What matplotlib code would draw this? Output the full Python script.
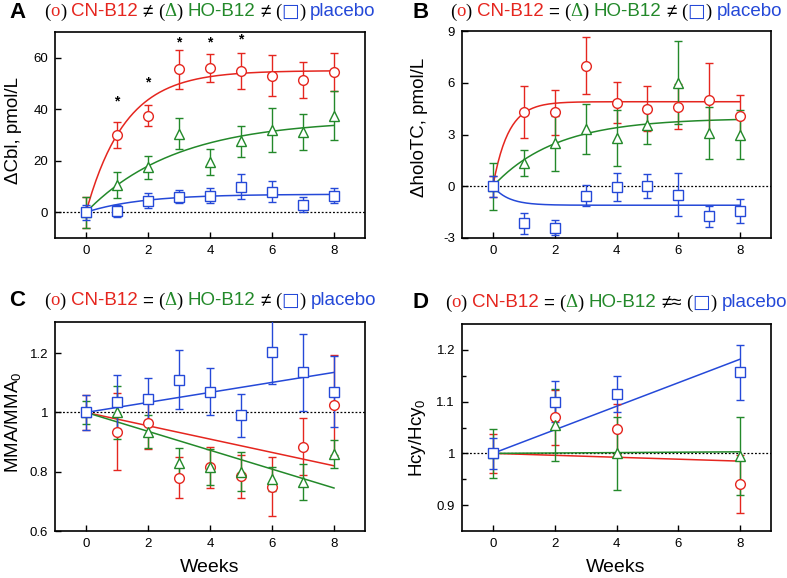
"""Four-panel B12 supplementation figure (Cbl, holoTC, MMA, Hcy over weeks)."""

import numpy as np
import matplotlib.pyplot as plt
from matplotlib.offsetbox import TextArea, HPacker, AnnotationBbox
from matplotlib.ticker import FuncFormatter

plt.rcParams["font.family"] = ["Liberation Sans", "DejaVu Sans"]
plt.rcParams["mathtext.fontset"] = "custom"
plt.rcParams["mathtext.rm"] = "Liberation Sans"
plt.rcParams["mathtext.it"] = "Liberation Sans:italic"

RED = "#e5261f"
GREEN = "#23892a"
BLUE = "#2549d8"

# ---- panel A: delta Cbl (pmol/L) ----
weeks = [0, 1, 2, 3, 4, 5, 6, 7, 8]
cbl_cn = [0, 30, 37.5, 55.5, 56, 55, 53, 51.5, 54.5]
cbl_cn_err = [6, 5, 4, 7.5, 5.5, 7, 8, 7, 7.5]
cbl_ho = [0, 10.5, 17.5, 30.5, 19.5, 27.5, 32, 31, 37.5]
cbl_ho_err = [6, 5, 4.5, 6, 5, 6, 8.5, 7, 9.5]
cbl_pl = [0, 0.5, 4.5, 6, 6.5, 10, 8, 3, 6.5]
cbl_pl_err = [3, 2.5, 3, 2.5, 3, 5, 4, 3, 3]
# fitted plateau, rate for a*(1 - exp(-k*t))
cbl_fit_cn = (55.0, 0.79)
cbl_fit_ho = (36.0, 0.345)
cbl_fit_pl = (7.0, 0.56)
star_weeks = [1, 2, 3, 4, 5]
star_heights = [43, 50.5, 66, 66, 67]

# ---- panel B: delta holoTC (pmol/L) ----
holotc_cn = [0, 4.3, 4.3, 7.0, 4.85, 4.5, 4.6, 5.0, 4.05]
holotc_cn_err = [0.6, 1.5, 1.3, 1.65, 1.2, 1.3, 1.3, 2.15, 1.25]
holotc_ho = [0, 1.35, 2.5, 3.3, 2.8, 3.55, 6.0, 3.1, 3.0]
holotc_ho_err = [1.35, 0.75, 1.6, 1.45, 1.6, 1.1, 2.4, 1.5, 1.4]
holotc_pl = [0, -2.15, -2.4, -0.55, -0.05, 0, -0.5, -1.75, -1.45]
holotc_pl_err = [0.6, 0.6, 0.45, 0.6, 0.8, 0.7, 1.25, 0.6, 0.7]
holotc_fit_cn = (4.9, 2.0)
holotc_fit_ho = (3.95, 0.49)
holotc_fit_pl = (-1.1, 2.0)

# ---- panel C: MMA / MMA0 ----
mma_cn = [1.0, 0.935, 0.965, 0.78, 0.815, 0.785, 0.75, 0.885, 1.025]
mma_cn_err = [0.06, 0.13, 0.09, 0.07, 0.07, 0.072, 0.1, 0.095, 0.17]
mma_ho = [1.0, 1.0, 0.935, 0.83, 0.815, 0.80, 0.775, 0.765, 0.86]
mma_ho_err = [0.04, 0.09, 0.055, 0.05, 0.06, 0.065, 0.04, 0.06, 0.047]
mma_pl = [1.0, 1.035, 1.045, 1.11, 1.07, 0.99, 1.205, 1.135, 1.07]
mma_pl_err = [0.06, 0.09, 0.07, 0.1, 0.08, 0.073, 0.11, 0.13, 0.12]
mma_line_cn = [1.0, 0.82]
mma_line_ho = [1.0, 0.745]
mma_line_pl = [1.0, 1.135]

# ---- panel D: Hcy / Hcy0 ----
weeks_d = [0, 2, 4, 8]
hcy_cn = [1.0, 1.07, 1.047, 0.94]
hcy_cn_err = [0.037, 0.053, 0.048, 0.056]
hcy_ho = [1.0, 1.055, 1.0, 0.995]
hcy_ho_err = [0.048, 0.07, 0.07, 0.075]
hcy_pl = [1.0, 1.1, 1.115, 1.157]
hcy_pl_err = [0.03, 0.04, 0.035, 0.053]
hcy_line_cn = [1.0, 0.985]
hcy_line_ho = [1.0, 1.003]
hcy_line_pl = [1.0, 1.182]

line_ends = [0, 8]

W, H = 787, 578
fig = plt.figure(figsize=(W / 100, H / 100), dpi=100)


def px_axes(left, top, right, bottom):
    return fig.add_axes([left / W, 1 - bottom / H, (right - left) / W, (bottom - top) / H])


def style_axes(ax, xlim, ylim, yticks):
    ax.set_xlim(*xlim)
    ax.set_ylim(*ylim)
    ax.set_xticks([0, 2, 4, 6, 8])
    ax.set_yticks(yticks)
    ax.yaxis.set_major_formatter(FuncFormatter(lambda v, p: f"{v:g}"))
    ax.tick_params(direction="in", length=4, width=1, labelsize=9.5, pad=5)
    for s in ax.spines.values():
        s.set_linewidth(1.2)


def draw_series(ax, x, y, err, color, marker, ms):
    ax.errorbar(x, y, yerr=err, fmt="none", ecolor=color, elinewidth=1.0,
                capsize=2.6, capthick=1.0, zorder=3)
    ax.plot(x, y, linestyle="none", marker=marker, ms=ms, mfc="white",
            mec=color, mew=1.0, zorder=4)


def exp_curve(ax, fit, color):
    t = np.linspace(0, 8, 200)
    a, k = fit
    ax.plot(t, a * (1 - np.exp(-k * t)), color=color, lw=1.1, zorder=2)


def title_box(cx_px, cy_px, sign):
    serif = ["Liberation Serif", "DejaVu Serif"]
    sans = ["Liberation Sans", "DejaVu Sans"]
    fs = 13.5
    parts = [
        [("(", "black", serif), ("o", RED, serif), (")", "black", serif)],
        [("CN-B12", RED, sans)],
        [(sign[0], "black", sans)],
        [("(", "black", serif), ("\u0394", GREEN, serif), (")", "black", serif)],
        [("HO-B12", GREEN, sans)],
        [(sign[1], "black", sans)],
        [("(", "black", serif), ("\u25a1", BLUE, ["DejaVu Sans"]), (")", "black", serif)],
        [("placebo", BLUE, sans)],
    ]
    groups = []
    for grp in parts:
        boxes = [TextArea(s, textprops=dict(color=c, fontsize=fs, family=f)) for s, c, f in grp]
        groups.append(HPacker(children=boxes, align="baseline", pad=0, sep=0))
    pack = HPacker(children=groups, align="baseline", pad=0, sep=3.5)
    ab = AnnotationBbox(pack, (cx_px / W, 1 - cy_px / H), xycoords="figure fraction",
                        box_alignment=(0.5, 0.5), frameon=False, pad=0)
    fig.add_artist(ab)


def ylabel(x_px, y_px, text):
    fig.text(x_px / W, 1 - y_px / H, text, rotation=90, ha="center", va="center", fontsize=13.5)


# Panel A
axA = px_axes(55, 32, 365, 238)
style_axes(axA, (-1, 9), (-10, 70), [0, 20, 40, 60])
axA.axhline(0, color="black", lw=0.9, ls=(0, (1.5, 1.5)), zorder=1)
exp_curve(axA, cbl_fit_cn, RED)
exp_curve(axA, cbl_fit_ho, GREEN)
exp_curve(axA, cbl_fit_pl, BLUE)
draw_series(axA, weeks, cbl_cn, cbl_cn_err, RED, "o", 7)
draw_series(axA, weeks, cbl_ho, cbl_ho_err, GREEN, "^", 7.5)
draw_series(axA, weeks, cbl_pl, cbl_pl_err, BLUE, "s", 6.5)
for wk, hy in zip(star_weeks, star_heights):
    axA.text(wk, hy, "*", ha="center", va="center", fontsize=10, fontweight="bold")

# Panel B
axB = px_axes(462, 31, 771, 238)
style_axes(axB, (-1, 9), (-3, 9), [-3, 0, 3, 6, 9])
axB.axhline(0, color="black", lw=0.9, ls=(0, (1.5, 1.5)), zorder=1)
exp_curve(axB, holotc_fit_cn, RED)
exp_curve(axB, holotc_fit_ho, GREEN)
exp_curve(axB, holotc_fit_pl, BLUE)
draw_series(axB, weeks, holotc_cn, holotc_cn_err, RED, "o", 7)
draw_series(axB, weeks, holotc_ho, holotc_ho_err, GREEN, "^", 7.5)
draw_series(axB, weeks, holotc_pl, holotc_pl_err, BLUE, "s", 6.5)

# Panel C
axC = px_axes(55, 322, 365, 531)
style_axes(axC, (-1, 9), (0.6, 1.305), [0.6, 0.8, 1.0, 1.2])
axC.axhline(1, color="black", lw=0.9, ls=(0, (1.5, 1.5)), zorder=1)
axC.plot(line_ends, mma_line_cn, color=RED, lw=1.1, zorder=2)
axC.plot(line_ends, mma_line_ho, color=GREEN, lw=1.1, zorder=2)
axC.plot(line_ends, mma_line_pl, color=BLUE, lw=1.1, zorder=2)
draw_series(axC, weeks, mma_cn, mma_cn_err, RED, "o", 7)
draw_series(axC, weeks, mma_ho, mma_ho_err, GREEN, "^", 7.5)
draw_series(axC, weeks, mma_pl, mma_pl_err, BLUE, "s", 6.5)

# Panel D
axD = px_axes(462, 324, 771, 531)
style_axes(axD, (-1, 9), (0.85, 1.25), [0.9, 1.0, 1.1, 1.2])
axD.set_yticks([0.95, 1.05, 1.15], minor=True)
axD.tick_params(which="minor", direction="in", length=3, width=1)
axD.axhline(1, color="black", lw=0.9, ls=(0, (1.5, 1.5)), zorder=1)
axD.plot(line_ends, hcy_line_cn, color=RED, lw=1.1, zorder=2)
axD.plot(line_ends, hcy_line_ho, color=GREEN, lw=1.1, zorder=2)
axD.plot(line_ends, hcy_line_pl, color=BLUE, lw=1.1, zorder=2)
draw_series(axD, weeks_d, hcy_cn, hcy_cn_err, RED, "o", 7)
draw_series(axD, weeks_d, hcy_ho, hcy_ho_err, GREEN, "^", 7.5)
draw_series(axD, weeks_d, hcy_pl, hcy_pl_err, BLUE, "s", 6.5)

# titles, panel letters, axis labels
title_box(210, 11, ("\u2260", "\u2260"))
title_box(616, 11, ("=", "\u2260"))
title_box(210, 300, ("=", "\u2260"))
title_box(616, 302, ("=", "\u2260\u2248"))

for letter, lx, ly in [("A", 9, 13), ("B", 412, 13), ("C", 9, 300), ("D", 412, 303)]:
    fig.text(lx / W, 1 - ly / H, letter, fontsize=16, fontweight="bold", ha="left", va="center")

ylabel(14, 131, "\u0394Cbl, pmol/L")
ylabel(420, 127, "\u0394holoTC, pmol/L")
ylabel(13, 422, "MMA/MMA$_0$")
ylabel(418, 438, "Hcy/Hcy$_0$")
fig.text(210 / W, 1 - 567 / H, "Weeks", ha="center", va="center", fontsize=14)
fig.text(616 / W, 1 - 567 / H, "Weeks", ha="center", va="center", fontsize=14)

fig.savefig("out.png", dpi=100)
